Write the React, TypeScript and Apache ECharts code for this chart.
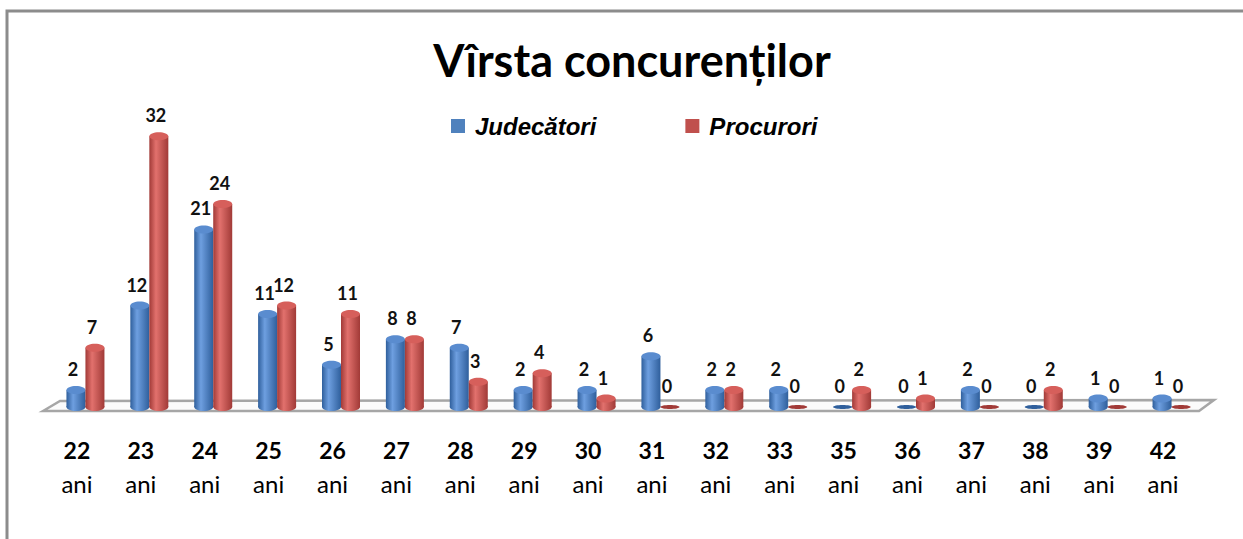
import React, { useEffect, useRef } from "react";
import * as echarts from "echarts";

const ages = ["22", "23", "24", "25", "26", "27", "28", "29", "30", "31", "32", "33", "35", "36", "37", "38", "39", "42"];
const judecatori = [2, 12, 21, 11, 5, 8, 7, 2, 2, 6, 2, 2, 0, 0, 2, 0, 1, 1];
const procurori = [7, 32, 24, 12, 11, 8, 3, 4, 1, 0, 2, 0, 2, 1, 0, 2, 0, 0];
const seriesNames = ["Judecători", "Procurori"];

const FONT = "Lato, 'Open Sans', sans-serif";
const LEGEND_FONT = "'Liberation Sans', Arial, sans-serif";

function cylinder(off: number, dark: string, light: string, topCol: string) {
  return (params: any, api: any) => {
    const idx = api.value(0);
    const v = api.value(1);
    const top = api.coord([idx, v]);
    const base = api.coord([idx, 0]);
    const cx = base[0] + off;
    const rx = 9.5;
    const ry = v === 0 ? 2 : 4;
    const grad = {
      type: "linear", x: 0, y: 0, x2: 1, y2: 0,
      colorStops: [
        { offset: 0, color: dark },
        { offset: 0.35, color: light },
        { offset: 1, color: dark },
      ],
    };
    const children: any[] = [];
    if (v > 0) {
      children.push({
        type: "ellipse",
        shape: { cx, cy: base[1], rx, ry },
        style: { fill: grad },
      });
      children.push({
        type: "rect",
        shape: { x: cx - rx, y: top[1], width: rx * 2, height: base[1] - top[1] },
        style: { fill: grad },
      });
    }
    children.push({
      type: "ellipse",
      shape: { cx, cy: top[1], rx, ry },
      style: { fill: v === 0 ? dark : topCol },
    });
    children.push({
      type: "text",
      style: {
        x: cx - 3,
        y: top[1] - 12,
        text: String(v),
        align: "center",
        verticalAlign: "bottom",
        fill: "#111",
        font: `bold 18px ${FONT}`,
      },
    });
    return { type: "group", children };
  };
}

export default function App() {
  const ref = useRef<HTMLDivElement>(null);
  useEffect(() => {
    if (!ref.current) return;
    const chart = echarts.init(ref.current, undefined, { renderer: "svg" });
    chart.setOption({
      animation: false,
      backgroundColor: "#ffffff",
      title: {
        text: "Vîrsta concurenților",
        left: 627,
        top: 32,
        textAlign: "center",
        textStyle: { fontFamily: FONT, fontWeight: "bold", fontSize: 45, color: "#000" },
      },
      legend: {
        left: 446,
        top: 109,
        itemWidth: 14,
        itemHeight: 14,
        itemGap: 89,
        icon: "rect",
        data: seriesNames,
        textStyle: {
          fontFamily: LEGEND_FONT,
          fontStyle: "italic",
          fontWeight: "bold",
          fontSize: 24,
          color: "#000",
          padding: [0, 0, 0, 5],
        },
      },
      grid: { left: 45, right: 48, top: 111, bottom: 132 },
      xAxis: {
        type: "category",
        data: ages,
        axisLine: { show: false },
        axisTick: { show: false },
        axisLabel: {
          interval: 0,
          margin: 26,
          formatter: (v: string) => `{a|${v}}\n{b|ani}`,
          rich: {
            a: { fontFamily: FONT, fontWeight: "bold", fontSize: 23, color: "#000", lineHeight: 34 },
            b: { fontFamily: FONT, fontSize: 24, color: "#000", lineHeight: 32 },
          },
        },
      },
      yAxis: { type: "value", min: 0, max: 35, show: false, splitLine: { show: false } },
      graphic: [
        {
          type: "polyline",
          z: -1,
          shape: { points: [[7, 539], [7, 11], [1243, 11]] },
          style: { stroke: "#8c8c8c", lineWidth: 3, fill: "none" },
        },
        {
          type: "polygon",
          z: -1,
          shape: { points: [[43, 411], [60, 401], [1214, 400], [1199, 411]] },
          style: { stroke: "#a6a6a6", lineWidth: 2.5, fill: "#fbfbfb" },
        },
      ],
      series: [
        {
          name: seriesNames[0],
          type: "custom",
          itemStyle: { color: "#4F81BD" },
          renderItem: cylinder(-1, "#2f5f9c", "#6e9fe0", "#5a8ccf"),
          data: judecatori.map((v, i) => [i, v]),
          z: 3,
        },
        {
          name: seriesNames[1],
          type: "custom",
          itemStyle: { color: "#C0504D" },
          renderItem: cylinder(18, "#a13a37", "#e2716d", "#d65f5b"),
          data: procurori.map((v, i) => [i, v]),
          z: 3,
        },
      ],
    });
    return () => chart.dispose();
  }, []);
  return (
    <div
      ref={ref}
      style={{ position: "absolute", left: 0, top: 0, width: 1243, height: 539 }}
    />
  );
}
